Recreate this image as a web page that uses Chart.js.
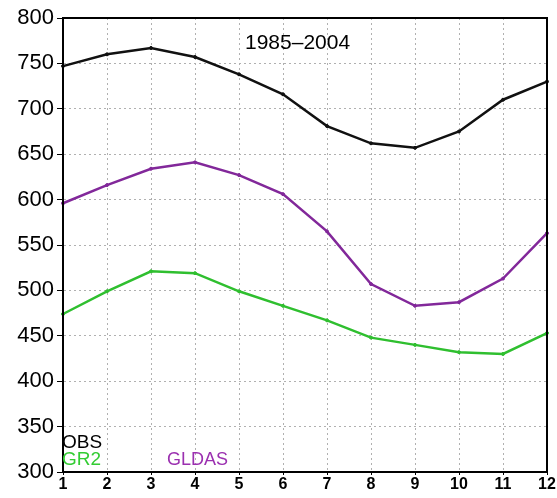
<!DOCTYPE html>
<html>
<head>
<meta charset="utf-8">
<script src="https://cdn.jsdelivr.net/npm/chart.js@4"></script>
<style>
  html, body { margin: 0; padding: 0; background: #fff; }
  #wrap { width: 557px; height: 498px; }
</style>
</head>
<body>
<div id="wrap"><canvas id="chart"></canvas></div>
<script>
const months = ['1', '2', '3', '4', '5', '6', '7', '8', '9', '10', '11', '12'];
const obs = [747, 760, 767, 757, 738, 716, 681, 662, 657, 675, 710, 730];
const gldas = [596, 616, 634, 641, 627, 606, 565, 507, 483, 487, 513, 563];
const gr2 = [474, 499, 521, 519, 499, 483, 467, 448, 440, 432, 430, 453];
const yTicks = [300, 350, 400, 450, 500, 550, 600, 650, 700, 750, 800];

const frame = {
    id: 'frame',
    afterDraw(chart) {
        const { ctx, chartArea: a } = chart;
        ctx.save();
        ctx.strokeStyle = '#000';
        ctx.lineWidth = 2;
        ctx.strokeRect(a.left, a.top, a.right - a.left, a.bottom - a.top);

        ctx.font = '21px "Liberation Sans", Arial, sans-serif';
        ctx.fillStyle = '#000';
        ctx.textBaseline = 'middle';
        ctx.fillText('1985\u20132004', 245, 43);

        ctx.font = '19px "Liberation Sans", Arial, sans-serif';
        ctx.fillText('OBS', 62, 443);
        ctx.fillStyle = '#33cc33';
        ctx.fillText('GR2', 62, 460);
        ctx.fillStyle = '#9b30b0';
        ctx.font = '18px "Liberation Sans", Arial, sans-serif';
        ctx.fillText('GLDAS', 167, 460);
        ctx.restore();
    },
};

new Chart(document.getElementById('chart'), {
    type: 'line',
    data: {
        labels: months,
        datasets: [
            { label: 'OBS', data: obs, borderColor: '#111', backgroundColor: '#111' },
            { label: 'GLDAS', data: gldas, borderColor: '#82289a', backgroundColor: '#82289a' },
            { label: 'GR2', data: gr2, borderColor: '#2fbf2f', backgroundColor: '#2fbf2f' },
        ],
    },
    options: {
        responsive: true,
        maintainAspectRatio: false,
        animation: false,
        elements: {
            line: { borderWidth: 2.5, tension: 0 },
            point: { radius: 1.5, hoverRadius: 1.5 },
        },
        layout: { padding: { top: 18, right: 10, left: 0, bottom: 0 } },
        plugins: {
            legend: { display: false },
            tooltip: { enabled: false },
        },
        scales: {
            x: {
                offset: false,
                grid: {
                    color: '#b0b0b0',
                    tickColor: '#000',
                    tickLength: 3,
                },
                border: { color: '#000', width: 2, dash: [2, 3] },
                ticks: {
                    color: '#000',
                    padding: 0,
                    maxRotation: 0,
                    font: { family: '"Liberation Sans", Arial, sans-serif', size: 16, weight: 'bold' },
                },
                afterFit(scale) {
                    scale.height = 26;
                    scale.paddingLeft = 0;
                    scale.paddingRight = 0;
                },
            },
            y: {
                min: 300,
                max: 800,
                afterBuildTicks(scale) {
                    scale.ticks = yTicks.map(v => ({ value: v }));
                },
                grid: {
                    color: '#b0b0b0',
                    tickColor: '#000',
                    tickLength: 6,
                },
                border: { color: '#000', width: 2, dash: [2, 3] },
                ticks: {
                    color: '#000',
                    padding: 3,
                    font: { family: '"Liberation Sans", Arial, sans-serif', size: 22 },
                },
                afterFit(scale) {
                    scale.width = 63;
                    scale.paddingTop = 0;
                    scale.paddingBottom = 0;
                },
            },
        },
    },
    plugins: [frame],
});
</script>
</body>
</html>
